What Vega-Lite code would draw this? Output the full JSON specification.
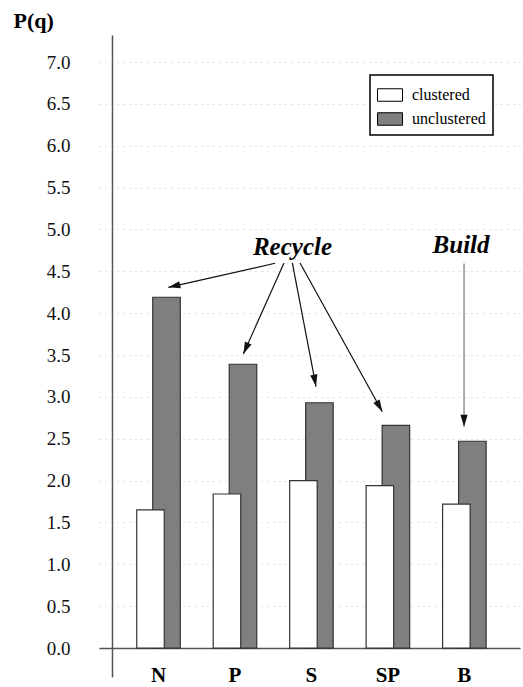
{
  "$schema": "https://vega.github.io/schema/vega-lite/v6.json",
  "width": 421,
  "height": 642,
  "autosize": {"type": "none"},
  "padding": {"left": 99, "top": 35, "right": 3, "bottom": 10},
  "background": "white",
  "config": {
    "view": {"stroke": null},
    "font": "Liberation Serif",
    "legend": {
      "orient": "none",
      "legendX": 271,
      "legendY": 40,
      "padding": 7,
      "strokeColor": "black",
      "strokeWidth": 1.5,
      "fillColor": "white",
      "symbolType": "M-1,-0.5H1V0.5H-1Z",
      "symbolSize": 625,
      "symbolStrokeColor": "black",
      "symbolStrokeWidth": 1,
      "symbolOpacity": 1,
      "labelFont": "Liberation Serif",
      "labelFontSize": 16,
      "labelColor": "black",
      "labelOffset": 9,
      "rowPadding": 2
    }
  },
  "datasets": {
    "bars": [
      {"cat": "N", "series": "clustered", "value": 1.65},
      {"cat": "N", "series": "unclustered", "value": 4.19},
      {"cat": "P", "series": "clustered", "value": 1.84},
      {"cat": "P", "series": "unclustered", "value": 3.39},
      {"cat": "S", "series": "clustered", "value": 2.0},
      {"cat": "S", "series": "unclustered", "value": 2.93},
      {"cat": "SP", "series": "clustered", "value": 1.94},
      {"cat": "SP", "series": "unclustered", "value": 2.66},
      {"cat": "B", "series": "clustered", "value": 1.72},
      {"cat": "B", "series": "unclustered", "value": 2.47}
    ],
    "arrows": [
      {"label": "Recycle", "x": 2.024, "y": 4.596, "x2": 0.628, "y2": 4.309},
      {"label": "Recycle", "x": 2.141, "y": 4.6, "x2": 1.609, "y2": 3.513},
      {"label": "Recycle", "x": 2.25, "y": 4.6, "x2": 2.56, "y2": 3.124},
      {"label": "Recycle", "x": 2.351, "y": 4.6, "x2": 3.427, "y2": 2.823},
      {"label": "Build", "x": 4.496, "y": 4.594, "x2": 4.496, "y2": 2.644}
    ],
    "notes": [
      {"text": "Recycle", "x": 2.252, "y": 4.695},
      {"text": "Build", "x": 4.457, "y": 4.716}
    ]
  },
  "layer": [
    {
      "data": {"name": "bars"},
      "encoding": {
        "x": {
          "field": "cat",
          "type": "nominal",
          "sort": ["N", "P", "S", "SP", "B"],
          "scale": {"paddingInner": 0, "paddingOuter": 0.253, "align": 0.55},
          "axis": {
            "title": null,
            "offset": -29,
            "labelAngle": 0,
            "ticks": false,
            "labelPadding": 16,
            "labelDx": 2,
            "labelFont": "Liberation Serif",
            "labelFontSize": 21,
            "labelFontWeight": "bold",
            "labelColor": "black",
            "domainColor": "#555",
            "domainWidth": 1.5,
            "grid": false
          }
        },
        "y": {
          "field": "value",
          "type": "quantitative",
          "scale": {"domain": [-0.346, 7.323], "nice": false, "zero": false},
          "axis": {
            "title": "P(q)",
            "titleAngle": 0,
            "titleX": -99,
            "titleY": -8,
            "titleAlign": "left",
            "titleBaseline": "alphabetic",
            "titleFont": "Liberation Serif",
            "titleFontSize": 22,
            "titleFontWeight": "bold",
            "titleColor": "black",
            "values": [0, 0.5, 1, 1.5, 2, 2.5, 3, 3.5, 4, 4.5, 5, 5.5, 6, 6.5, 7],
            "format": ".1f",
            "offset": -13,
            "ticks": false,
            "labelPadding": 42,
            "labelFont": "Liberation Serif",
            "labelFontSize": 19,
            "labelColor": "#111",
            "domainColor": "#555",
            "domainWidth": 1.5,
            "grid": true,
            "gridColor": "#c4c4c4",
            "gridDash": [1, 5],
            "gridWidth": 1
          }
        },
        "y2": {"datum": 0},
        "color": {
          "field": "series",
          "type": "nominal",
          "scale": {"domain": ["clustered", "unclustered"], "range": ["#ffffff", "#7f7f7f"]},
          "legend": {"title": null}
        }
      },
      "layer": [
        {
          "transform": [{"filter": "datum.series === 'unclustered'"}],
          "mark": {"type": "bar", "width": {"band": 0.36}, "xOffset": 8, "stroke": "#333", "strokeWidth": 1.2, "opacity": 1}
        },
        {
          "transform": [{"filter": "datum.series === 'clustered'"}],
          "mark": {"type": "bar", "width": {"band": 0.36}, "xOffset": -8, "stroke": "#333", "strokeWidth": 1.2, "opacity": 1}
        }
      ]
    },
    {
      "encoding": {
        "x": {"field": "x", "type": "quantitative", "scale": {"domain": [-0.279, 5.228], "nice": false, "zero": false}, "axis": null},
        "y": {"field": "y", "type": "quantitative", "scale": {"domain": [-0.346, 7.323], "nice": false, "zero": false}}
      },
      "layer": [
        {
          "data": {"name": "arrows"},
          "mark": {"type": "rule", "strokeWidth": 1.2},
          "encoding": {
            "x2": {"field": "x2"},
            "y2": {"field": "y2"},
            "stroke": {"field": "label", "type": "nominal", "scale": {"domain": ["Recycle", "Build"], "range": ["#111", "#777"]}, "legend": null}
          }
        },
        {
          "data": {"name": "arrows"},
          "mark": {
            "type": "point",
            "filled": true,
            "opacity": 1,
            "color": "#111",
            "shape": "M0,0L0.3,1L-0.3,1Z",
            "size": 576,
            "angle": {"expr": "atan2((datum.x2 - datum.x) * width / 5.507, (datum.y2 - datum.y) * height / 7.669) * 180 / PI"}
          },
          "encoding": {
            "x": {"field": "x2", "type": "quantitative"},
            "y": {"field": "y2", "type": "quantitative"}
          }
        },
        {
          "data": {"name": "notes"},
          "mark": {"type": "text", "font": "Liberation Serif", "fontSize": 25, "fontWeight": "bold", "fontStyle": "italic", "align": "center", "baseline": "alphabetic", "color": "black"},
          "encoding": {"text": {"field": "text"}}
        }
      ]
    }
  ],
  "resolve": {"scale": {"x": "independent"}}
}
